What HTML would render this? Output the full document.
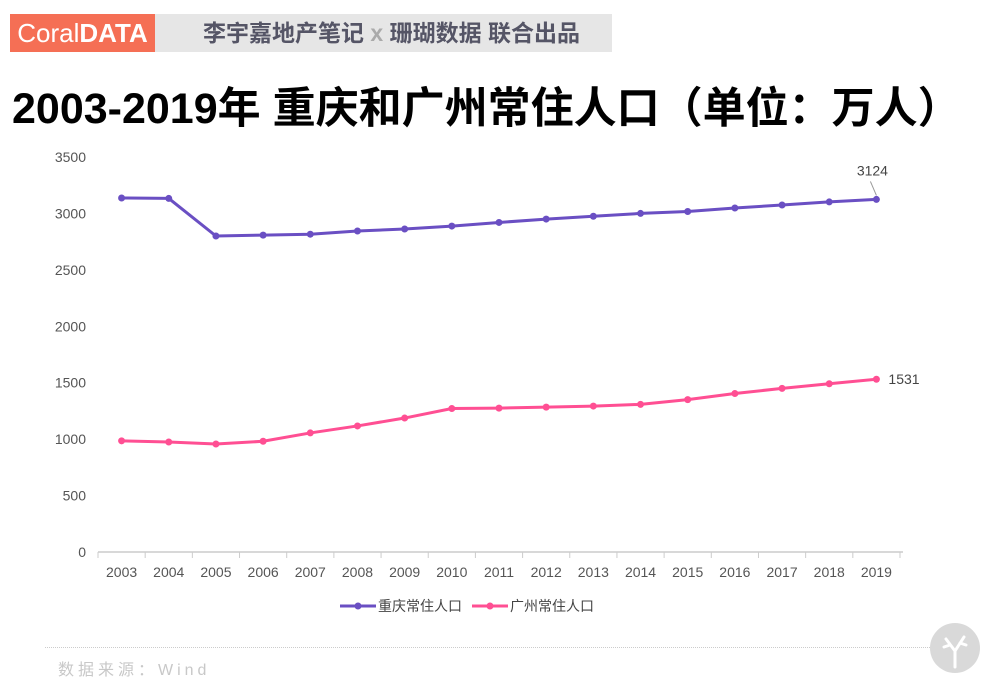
<!DOCTYPE html>
<html><head><meta charset="utf-8">
<style>
body{margin:0;background:#fff;width:1000px;height:694px;overflow:hidden;position:relative;font-family:"Liberation Sans","Noto Sans CJK SC",sans-serif}
.hdr{position:absolute;top:14px;height:38px}
#brand{left:10px;width:145px;background:#f56f55;color:#fff;font-size:26px;line-height:38px;text-align:center}
#sub{left:155px;width:457px;background:#e6e6e6;color:#555566;font-size:23px;line-height:38px;font-weight:bold;padding-left:48px;box-sizing:border-box;white-space:nowrap}
#title{position:absolute;left:12px;top:74px;font-size:43px;font-weight:bold;color:#000;white-space:nowrap}
#src{position:absolute;left:58px;top:656px;color:#c8c8c8;font-size:16px;letter-spacing:4px}
#sep{position:absolute;left:45px;top:647px;width:925px;border-top:1px dotted #ccc}
#logo{position:absolute;left:930px;top:623px;width:50px;height:50px;border-radius:25px;background:#d9d9d9}
</style></head><body>
<div class="hdr" id="brand">Coral<b>DATA</b></div>
<div class="hdr" id="sub">李宇嘉地产笔记 <span style="color:#aaa">x</span> 珊瑚数据 联合出品</div>
<div id="title">2003-2019年 重庆和广州常住人口（单位：万人）</div>
<svg id="chart" width="1000" height="694" style="position:absolute;left:0;top:0"></svg>
<div id="sep"></div>
<div id="src">数据来源：Wind</div>
<div id="logo"><svg width="50" height="50"><path d="M25 44 L25 28 L16 16 M25 28 L34 14 M20 22 L14 24 M30 20 L36 22" stroke="#fff" stroke-width="3" fill="none" stroke-linecap="round"/></svg></div>
<script>
const years=["2003","2004","2005","2006","2007","2008","2009","2010","2011","2012","2013","2014","2015","2016","2017","2018","2019"];
const chongqing=[3137,3133,2800,2808,2816,2844,2862,2888,2920,2950,2975,3000,3017,3048,3075,3102,3124];
const guangzhou=[985,975,957,981,1055,1117,1187,1271,1275,1284,1293,1308,1350,1404,1450,1491,1531];
const yTicks=[0,500,1000,1500,2000,2500,3000,3500];
const NS="http://www.w3.org/2000/svg";
const svg=document.getElementById('chart');
const x0=98,x1=900,y0=552,yTop=157,yMax=3500;
const band=(x1-x0)/years.length;
const X=i=>x0+band*(i+0.5);
const Y=v=>y0-(v/yMax)*(y0-yTop);
function mk(t,a){const e=document.createElementNS(NS,t);for(const k in a)e.setAttribute(k,a[k]);svg.appendChild(e);return e;}
yTicks.forEach(v=>{const t=mk('text',{x:86,y:Y(v)+5,'text-anchor':'end','font-size':14,fill:'#555'});t.textContent=v;

});
const ax=mk('line',{x1:x0,y1:y0,x2:x1+3,y2:y0,stroke:'#ccc','stroke-width':1.5});


for(let i=0;i<=years.length;i++){const l=mk('line',{x1:x0+band*i,y1:y0,x2:x0+band*i,y2:y0+6,stroke:'#ccc'});

}
years.forEach((y,i)=>{const t=mk('text',{x:X(i),y:577,'text-anchor':'middle','font-size':14,fill:'#555'});t.textContent=y;

});
function series(data,color,name){
 const p=mk('polyline',{points:data.map((v,i)=>X(i)+','+Y(v)).join(' '),fill:'none',stroke:color,'stroke-width':3});
 
 
 data.forEach((v,i)=>{const c=mk('circle',{cx:X(i),cy:Y(v),r:3.5,fill:color});
 
 });
}
series(chongqing,'#6a4fc3','chongqing');
series(guangzhou,'#ff4f93','guangzhou');
const n=years.length-1;
mk('line',{x1:X(n),y1:Y(chongqing[n])-4,x2:X(n)-6,y2:Y(chongqing[n])-18,stroke:'#999'});
const l1=mk('text',{x:X(n)-4,y:Y(chongqing[n])-24,'text-anchor':'middle','font-size':14,fill:'#444'});l1.textContent=chongqing[n];


const l2=mk('text',{x:X(n)+12,y:Y(guangzhou[n])+5,'font-size':14,fill:'#444'});l2.textContent=guangzhou[n];


[[340,'#6a4fc3','重庆常住人口','legend-chongqing'],[472,'#ff4f93','广州常住人口','legend-guangzhou']].forEach(([lx,c,txt,nm])=>{
 const g=document.createElementNS(NS,'g');svg.appendChild(g);
 
 
 const a=document.createElementNS(NS,'line');a.setAttribute('x1',lx);a.setAttribute('x2',lx+36);a.setAttribute('y1',606);a.setAttribute('y2',606);a.setAttribute('stroke',c);a.setAttribute('stroke-width',3);g.appendChild(a);
 const b=document.createElementNS(NS,'circle');b.setAttribute('cx',lx+18);b.setAttribute('cy',606);b.setAttribute('r',3.5);b.setAttribute('fill',c);g.appendChild(b);
 const t=document.createElementNS(NS,'text');t.setAttribute('x',lx+38);t.setAttribute('y',611);t.setAttribute('font-size',14);t.setAttribute('fill','#444');t.textContent=txt;g.appendChild(t);
});
</script>
</body></html>
